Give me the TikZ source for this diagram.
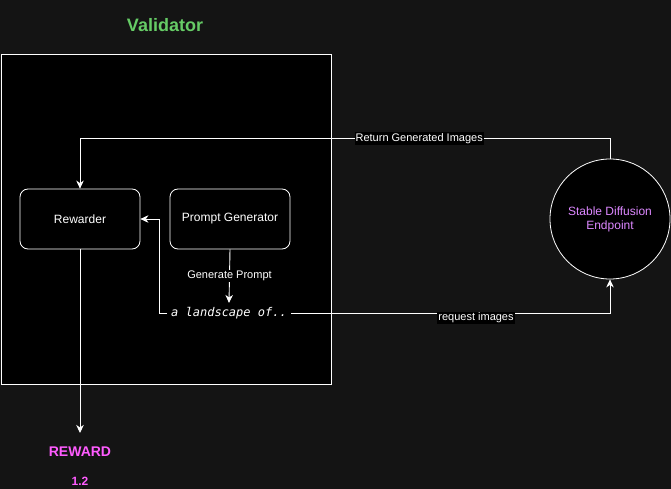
\documentclass[tikz,border=0pt]{standalone}
\usepackage{fontspec}
\setmainfont{Liberation Sans}
\newfontfamily\codefont{DejaVu Sans Mono}
\usetikzlibrary{arrows.meta}
\definecolor{bgcol}{HTML}{141414}
\definecolor{titlecol}{HTML}{66CC66}
\definecolor{sdcol}{HTML}{DD88FF}
\definecolor{rewcol}{HTML}{FF5CFF}

\tikzset{
  box/.style={draw=white, fill=black, text=white, rounded corners=8pt,
    minimum width=120pt, minimum height=60pt, line width=0.8pt,
    font=\fontsize{12}{14}\selectfont},
  lbl/.style={fill=black, text=white, inner sep=1pt,
    font=\fontsize{11}{13}\selectfont},
  link/.style={draw=white, line width=0.9pt, -{Stealth[length=8pt,width=7.5pt,inset=2.5pt]}}
}

\begin{document}
\begin{tikzpicture}[x=1pt,y=-1pt]
\useasboundingbox[fill=bgcol] (0,0) rectangle (671,489);

% validator frame
\node[draw=white, fill=black, line width=0.8pt, minimum width=330pt,
  minimum height=330pt] (val) at (166,219) {};
\node[text=titlecol, font=\fontsize{18}{20}\bfseries\selectfont] (title) at (165,25) {Validator};

\node[box] (rew) at (80,219) {Rewarder};
\node[box] (gen) at (230,219) {Prompt Generator};
\node[text=white, inner sep=4pt, font=\fontsize{12}{14}\codefont\itshape] (prompt) at (229,313) {a landscape of..};

% endpoint
\node[circle, draw=white, fill=black, line width=0.8pt, minimum size=120pt,
  align=center, text=sdcol, font=\fontsize{12}{14}\selectfont] (sd) at (610,219) {Stable Diffusion\\Endpoint};

% reward out
\node[text=rewcol, font=\fontsize{14}{16}\bfseries\selectfont] (reward) at (80,452) {REWARD};
\node[text=rewcol, font=\fontsize{12}{14}\bfseries\selectfont] (score) at (80,481) {1.2};
\coordinate (rewtip) at (80,433);

% connectors
\draw[link] (gen.south) -- node[lbl]{Generate Prompt} (prompt.north);
\draw[link] (prompt.west) -- ++(-8,0) |- (rew.east);
\draw[link] (prompt.east) -| node[lbl, pos=0.29, yshift=-5pt]{request images} (sd.south);
\draw[link] (sd.north) -- ++(0,-20) -| node[lbl, pos=0.18]{Return Generated Images} (rew.north);
\draw[link] (rew.south) -- (rewtip);
\end{tikzpicture}
\end{document}
